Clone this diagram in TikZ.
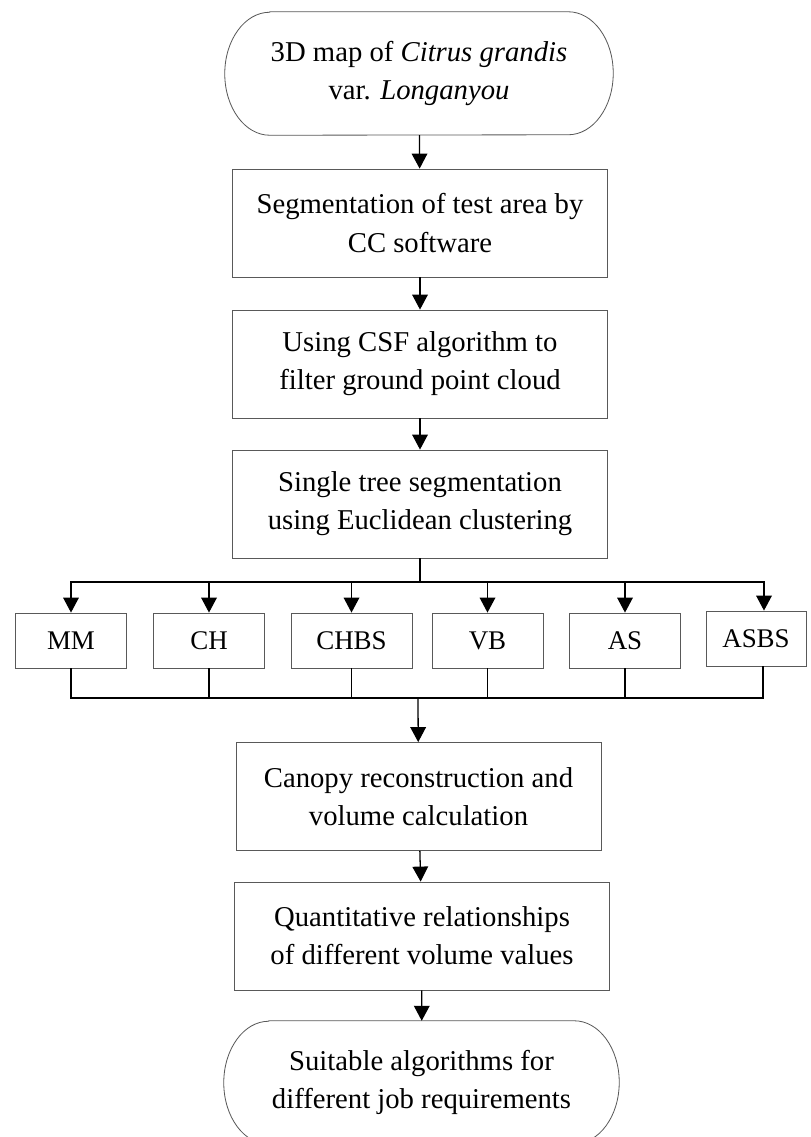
\documentclass[tikz,border=0pt]{standalone}
\usepackage{fontspec}
\setmainfont{Liberation Serif}
\usetikzlibrary{arrows.meta}

\tikzset{
  box/.style={draw=black!65, line width=0.7pt, minimum width=11.25cm, minimum height=3.24cm, align=center, font=\fontsize{24.5}{32.5}\selectfont},
  term/.style={minimum width=11.64cm, minimum height=3.69cm, align=center, font=\fontsize{24.5}{32.5}\selectfont},
  method/.style={draw=black!65, line width=0.7pt, minimum width=3.33cm, minimum height=1.65cm, font=\fontsize{23}{27}\selectfont},
  flow/.style={line width=1.1pt, -{Triangle[length=0.45cm,width=0.47cm]}},
  link/.style={line width=1.1pt},
}
\newcommand\termoutline[1]{%
  \draw[draw=black!65, line width=0.7pt] ([xshift=1.35cm]#1.north west) -- ([xshift=-1.35cm]#1.north east)
    arc[start angle=90, end angle=-90, x radius=1.35cm, y radius=1.845cm]
    -- ([xshift=1.35cm]#1.south west)
    arc[start angle=270, end angle=90, x radius=1.35cm, y radius=1.845cm] -- cycle;}

\begin{document}
\begin{tikzpicture}[x=0.03cm, y=-0.03cm]
    \useasboundingbox (0,0) rectangle (811,1137);
    \node[term] (map) at (419,73.5) {3D map of \textit{Citrus grandis}\\var. \textit{Longanyou}};
    \termoutline{map}
    \node[box] (seg) at (420,223) {Segmentation of test area by\\CC software};
    \node[box] (csf) at (420,364) {Using CSF algorithm to\\filter ground point cloud};
    \node[box] (tree) at (420,504) {Single tree segmentation\\using Euclidean clustering};
    \node[method] (mm) at (71,640.5) {MM};
    \node[method] (ch) at (209,640.5) {CH};
    \node[method, minimum width=3.63cm] (chbs) at (351.5,640.5) {CHBS};
    \node[method] (vb) at (487.5,640.5) {VB};
    \node[method] (as) at (625,640.5) {AS};
    \node[method, minimum width=3cm] (asbs) at (756,638.5) {ASBS};
    \node[box, minimum width=10.95cm] (canopy) at (418.5,796.5) {Canopy reconstruction and\\volume calculation};
    \node[box] (rel) at (422,936) {Quantitative relationships\\of different volume values};
    \node[term, minimum width=11.85cm] (suit) at (421.5,1082.5) {Suitable algorithms for\\different job requirements};
    \termoutline{suit}
    \coordinate (split) at (420,582);
    \coordinate (join) at (418,698);
    % main chain
    \draw[flow] (map) -- (seg);
    \draw[flow] (seg) -- (csf);
    \draw[flow] (csf) -- (tree);
    % fan out to the six methods
    \draw[link] (tree) -- (split);
    \draw[flow] (split) -| (mm);
    \draw[flow] (split) -| (ch);
    \draw[flow] (split) -| (chbs);
    \draw[flow] (split) -| (vb);
    \draw[flow] (split) -| (as);
    \draw[flow] (split) -| ([xshift=0.24cm]asbs.north);
    % gather again
    \draw[link] (mm) |- (join);
    \draw[link] (ch) |- (join);
    \draw[link] (chbs) |- (join);
    \draw[link] (vb) |- (join);
    \draw[link] (as) |- (join);
    \draw[link] ([xshift=0.21cm]asbs.south) |- (join);
    \draw[flow] (join) -- (canopy);
    \draw[flow] (canopy) -- (rel);
    \draw[flow] (rel) -- (suit);
\end{tikzpicture}
\end{document}
